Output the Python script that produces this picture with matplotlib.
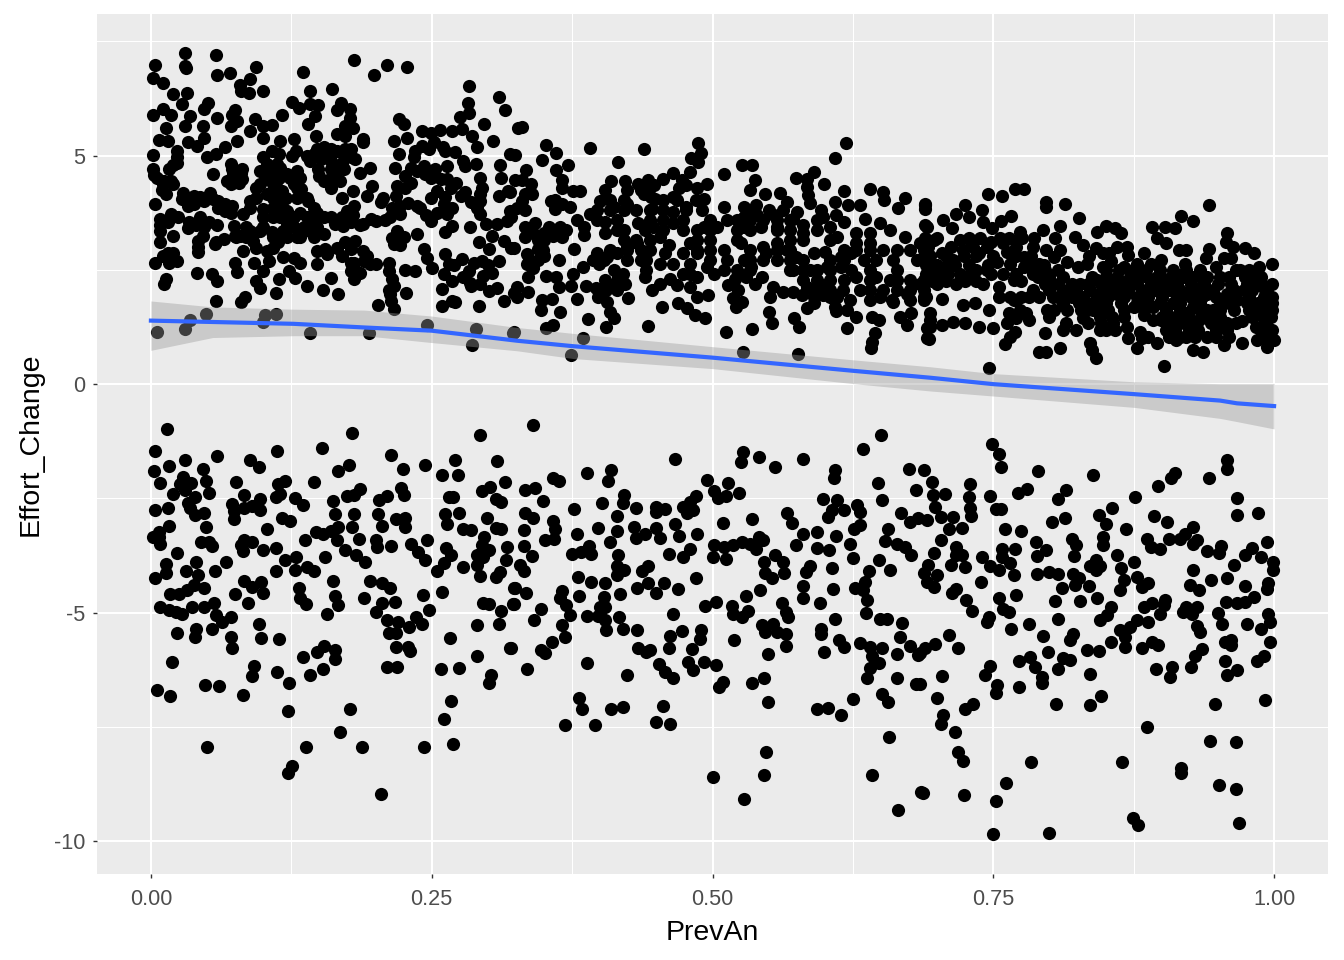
import numpy as np
import matplotlib
matplotlib.use('Agg')
import matplotlib.pyplot as plt

plt.rcParams['font.family'] = ['Liberation Sans', 'DejaVu Sans']

# values, (PrevAn, Effort_Change)
lower_left = [
(.0145,-.99),(.179,-1.08),(.293,-1.12),(.152,-1.39),(.004,-1.47),(.112,-1.47),(.214,-1.56),(.059,-1.58),(.030,-1.67),(.088,-1.67),
(.271,-1.67),(.308,-1.69),(.016,-1.80),(.046,-1.85),(.096,-1.82),(.176,-1.77),(.167,-1.91),(.224,-1.85),(.244,-1.76),(.003,-1.91),
(.259,-1.98),(.273,-1.98),(.008,-2.17),(.029,-2.03),(.026,-2.19),(.036,-2.16),(.049,-2.12),(.076,-2.15),(.119,-2.11),(.113,-2.19),
(.145,-2.15),(.315,-2.15),(.020,-2.41),(.030,-2.32),(.052,-2.39),(.039,-2.48),(.083,-2.43),(.115,-2.41),(.111,-2.48),(.128,-2.49),
(.186,-2.30),(.181,-2.43),(.175,-2.44),(.162,-2.56),(.210,-2.45),(.203,-2.54),(.223,-2.28),(.225,-2.42),(.265,-2.46),(.269,-2.46),
(.295,-2.33),(.302,-2.26),(.307,-2.51),(.312,-2.59),(.004,-2.76),(.015,-2.72),(.033,-2.61),(.035,-2.72),(.039,-2.87),(.047,-2.83),
(.072,-2.63),(.074,-2.78),(.074,-2.95),(.083,-2.70),(.090,-2.67),(.097,-2.52),(.097,-2.76),(.135,-2.65),(.164,-2.85),(.181,-2.85),
(.202,-2.85),(.262,-2.85),(.274,-2.81),(.218,-2.95),(.226,-2.93),(.264,-3.05),(.299,-2.93),(.307,-3.15),(.312,-3.18),(.016,-3.11),
(.049,-3.13),(.103,-3.16),(.117,-2.92),(.124,-3.00),(.167,-3.12),(.179,-3.12),(.206,-3.11),(.226,-3.13),(.160,-3.21),(.153,-3.29),
(.147,-3.24),(.278,-3.18),(.285,-3.20),(.007,-3.23),(.002,-3.34),(.007,-3.34),(.008,-3.49),(.297,-3.34),(.045,-3.45),(.052,-3.45),
(.054,-3.54),(.137,-3.41),(.166,-3.41),(.185,-3.38),(.200,-3.41),(.201,-3.57),(.214,-3.54),(.173,-3.62),(.232,-3.49),(.246,-3.41),
(.238,-3.67),(.083,-3.41),(.090,-3.45),(.080,-3.51),(.082,-3.65),(.100,-3.62),(.111,-3.59),(.317,-3.56),(.263,-3.58),(.267,-3.73),
(.295,-3.52),(.301,-3.63),(.290,-3.73),(.296,-3.78),(.023,-3.70),(.155,-3.78),(.183,-3.74),(.191,-3.89),(.244,-3.85),(.067,-3.90),
(.119,-3.84),(.129,-3.78),(.261,-3.92),(.316,-3.85),(.013,-3.94),(.040,-3.90),(.031,-4.08),(.057,-4.10),(.111,-4.08),(.128,-4.06),
(.139,-4.01),(.145,-4.08),(.255,-4.08),(.278,-4.01),(.290,-3.96),(.013,-4.14),(.004,-4.25),(.042,-4.18),(.293,-4.20),(.311,-4.11),
(.307,-4.22),(.162,-4.30),(.195,-4.30),(.083,-4.30),(.098,-4.33),(.090,-4.43),(.047,-4.46),(.038,-4.40),(.206,-4.35),(.213,-4.47),
(.132,-4.46),(.100,-4.58),(.075,-4.60),(.017,-4.60),(.032,-4.51),(.025,-4.60),(.259,-4.54),(.242,-4.62),(.190,-4.67),(.164,-4.64),
(.167,-4.84),(.133,-4.69),(.138,-4.82),(.086,-4.78),(.056,-4.78),(.047,-4.87),(.037,-4.87),(.008,-4.87),(.016,-4.94),(.022,-4.98),
(.028,-5.02),(.217,-4.76),(.206,-4.80),(.200,-4.99),(.248,-4.94),(.296,-4.80),(.301,-4.82),(.322,-4.82),(.323,-4.47),(.312,-4.96),
(.058,-5.05),(.071,-5.09),(.063,-5.20),(.157,-5.04),(.210,-5.16),(.220,-5.21),(.236,-5.09),(.241,-5.25),(.230,-5.32),(.096,-5.26),
(.290,-5.28),(.310,-5.24),(.054,-5.35),(.040,-5.36),(.023,-5.45),(.039,-5.53),(.071,-5.53),(.072,-5.77),(.098,-5.56),(.114,-5.58),
(.212,-5.45),(.218,-5.44),(.266,-5.56),(.218,-5.76),(.229,-5.75),(.231,-5.85),(.320,-5.78),(.154,-5.73),(.148,-5.87),(.164,-5.82),
(.164,-6.01),(.135,-5.98),(.019,-6.09),(.290,-5.96),(.092,-6.16),(.090,-6.38),(.112,-6.31),(.153,-6.24),(.142,-6.36),(.210,-6.18),
(.219,-6.20),(.258,-6.24),(.274,-6.22),(.303,-6.36),(.301,-6.55),(.048,-6.58),(.061,-6.60),(.123,-6.55),(.005,-6.70),(.017,-6.83),
(.082,-6.81),(.267,-6.94),(.122,-7.16),(.177,-7.12),(.261,-7.33),(.168,-7.62),(.050,-7.95),(.138,-7.95),(.188,-7.93),(.243,-7.95),
(.269,-7.88),(.126,-8.36),(.122,-8.52),(.205,-8.98),
]
lower_mid = [
(.340,-.90),(.650,-1.12),(.634,-1.43),(.467,-1.63),(.527,-1.48),(.525,-1.71),(.541,-1.60),(.556,-1.82),(.581,-1.63),(.609,-1.88),
(.608,-2.05),(.675,-1.85),(.358,-2.06),(.363,-2.11),(.388,-1.95),(.410,-1.87),(.407,-2.12),(.495,-2.09),(.514,-2.17),(.501,-2.33),
(.505,-2.50),(.512,-2.45),(.524,-2.39),(.647,-2.17),(.681,-2.32),(.333,-2.32),(.342,-2.28),(.349,-2.56),(.377,-2.74),(.402,-2.61),
(.421,-2.43),(.420,-2.61),(.432,-2.72),(.450,-2.68),(.450,-2.79),(.458,-2.74),(.485,-2.44),(.480,-2.57),(.474,-2.68),(.483,-2.76),
(.477,-2.83),(.598,-2.52),(.611,-2.54),(.606,-2.76),(.603,-2.90),(.617,-2.76),(.651,-2.54),(.629,-2.65),(.631,-2.79),(.566,-2.83),
(.571,-3.03),(.333,-2.81),(.340,-2.92),(.358,-2.99),(.415,-2.89),(.467,-3.05),(.509,-3.03),(.535,-2.96),(.668,-2.83),(.676,-3.01),
(.683,-2.92),(.332,-3.20),(.360,-3.18),(.351,-3.40),(.359,-3.38),(.379,-3.27),(.398,-3.14),(.415,-3.22),(.430,-3.12),(.432,-3.36),
(.440,-3.27),(.450,-3.14),(.453,-3.36),(.470,-3.33),(.486,-3.29),(.409,-3.46),(.581,-3.28),(.574,-3.52),(.593,-3.24),(.610,-3.33),
(.631,-3.09),(.626,-3.18),(.656,-3.17),(.654,-3.43),(.664,-3.49),(.671,-3.56),(.677,-3.75),(.593,-3.59),(.604,-3.63),(.622,-3.50),
(.625,-3.80),(.332,-3.55),(.339,-3.76),(.375,-3.71),(.383,-3.67),(.390,-3.55),(.392,-3.72),(.416,-3.73),(.461,-3.71),(.480,-3.61),
(.474,-3.79),(.501,-3.52),(.510,-3.57),(.500,-3.79),(.512,-3.83),(.518,-3.52),(.526,-3.45),(.533,-3.49),(.541,-3.34),(.545,-3.41),
(.539,-3.60),(.556,-3.74),(.563,-3.89),(.564,-4.14),(.546,-3.89),(.547,-4.14),(.553,-4.24),(.648,-3.84),(.658,-4.07),(.329,-3.96),
(.332,-4.08),(.587,-3.98),(.583,-4.11),(.581,-4.42),(.581,-4.67),(.606,-4.03),(.639,-4.09),(.636,-4.32),(.627,-4.47),(.634,-4.51),
(.638,-4.73),(.637,-5.00),(.415,-3.99),(.421,-4.06),(.415,-4.18),(.437,-4.08),(.443,-3.99),(.380,-4.23),(.392,-4.33),(.404,-4.35),
(.485,-4.25),(.433,-4.47),(.443,-4.36),(.450,-4.58),(.457,-4.35),(.469,-4.49),(.324,-4.47),(.334,-4.58),(.323,-4.81),(.366,-4.52),
(.364,-4.69),(.370,-4.84),(.373,-5.05),(.381,-4.63),(.403,-4.65),(.400,-4.87),(.404,-4.87),(.418,-4.60),(.542,-4.51),(.530,-4.64),
(.503,-4.76),(.493,-4.86),(.607,-4.49),(.596,-4.78),(.517,-4.85),(.518,-5.02),(.526,-5.10),(.532,-4.97),(.562,-4.80),(.565,-4.98),
(.567,-5.10),(.347,-4.92),(.341,-5.16),(.465,-5.02),(.388,-5.07),(.398,-5.07),(.404,-5.16),(.417,-5.09),(.649,-5.13),(.655,-5.13),
(.669,-5.22),(.609,-5.14),(.597,-5.35),(.597,-5.47),(.366,-5.27),(.369,-5.53),(.405,-5.38),(.420,-5.35),(.433,-5.37),(.544,-5.27),
(.554,-5.24),(.547,-5.42),(.557,-5.42),(.565,-5.46),(.473,-5.40),(.462,-5.51),(.490,-5.37),(.489,-5.57),(.519,-5.61),(.667,-5.54),
(.357,-5.65),(.347,-5.82),(.351,-5.89),(.321,-5.78),(.434,-5.78),(.441,-5.86),(.444,-5.81),(.461,-5.78),(.482,-5.80),(.565,-5.72),
(.613,-5.59),(.617,-5.76),(.631,-5.67),(.640,-5.76),(.651,-5.78),(.676,-5.73),(.683,-5.93),(.599,-5.87),(.549,-5.91),(.664,-5.91),
(.642,-5.96),(.648,-6.11),(.640,-6.22),(.638,-6.43),(.388,-6.10),(.335,-6.24),(.452,-6.12),(.458,-6.29),(.465,-6.44),(.478,-6.07),
(.483,-6.26),(.492,-6.09),(.503,-6.15),(.424,-6.37),(.546,-6.42),(.535,-6.55),(.509,-6.51),(.506,-6.62),(.664,-6.42),(.681,-6.57),
(.651,-6.77),(.656,-6.95),(.625,-6.90),(.549,-6.95),(.381,-6.86),(.384,-7.10),(.410,-7.12),(.420,-7.07),(.456,-7.05),(.593,-7.10),
(.603,-7.09),(.614,-7.25),(.369,-7.47),(.395,-7.45),(.450,-7.39),(.462,-7.43),(.657,-7.73),(.548,-8.06),(.500,-8.59),(.546,-8.56),
(.642,-8.56),(.686,-8.93),(.528,-9.07),(.665,-9.33),
]
lower_right = [
(.749,-1.31),(.755,-1.53),(.757,-1.81),(.790,-1.89),(.839,-1.98),(.958,-1.65),(.958,-1.85),(.942,-2.06),(.912,-1.95),(.908,-2.06),
(.897,-2.22),(.688,-1.87),(.695,-2.14),(.729,-2.19),(.728,-2.46),(.707,-2.41),(.747,-2.44),(.780,-2.30),(.772,-2.39),(.815,-2.32),
(.808,-2.52),(.876,-2.46),(.696,-2.43),(.698,-2.68),(.703,-2.90),(.714,-2.90),(.691,-2.98),(.729,-2.72),(.730,-2.88),(.752,-2.74),
(.757,-2.74),(.856,-2.72),(.967,-2.50),(.967,-2.87),(.986,-2.83),(.814,-2.92),(.802,-3.01),(.844,-2.87),(.850,-3.06),(.893,-2.89),
(.905,-3.01),(.760,-3.18),(.775,-3.22),(.711,-3.18),(.722,-3.14),(.868,-3.18),(.928,-3.12),(.921,-3.27),(.916,-3.38),(.703,-3.42),
(.788,-3.46),(.820,-3.38),(.824,-3.52),(.822,-3.76),(.848,-3.34),(.848,-3.52),(.887,-3.38),(.890,-3.56),(.898,-3.60),(.906,-3.38),
(.931,-3.41),(.928,-3.49),(.953,-3.54),(.951,-3.69),(.940,-3.66),(.994,-3.46),(.980,-3.58),(.974,-3.74),(.988,-3.79),(.999,-3.89),
(.999,-4.07),(.717,-3.56),(.722,-3.74),(.717,-3.74),(.697,-3.70),(.769,-3.61),(.758,-3.60),(.758,-3.78),(.797,-3.63),(.789,-3.76),
(.740,-3.78),(.860,-3.73),(.875,-3.89),(.841,-3.85),(.836,-3.99),(.845,-3.99),(.841,-4.07),(.964,-3.96),(.692,-3.96),(.688,-4.14),
(.700,-4.18),(.691,-4.32),(.697,-4.43),(.712,-3.96),(.725,-4.01),(.747,-3.99),(.755,-4.07),(.765,-3.92),(.768,-4.18),(.789,-4.16),
(.800,-4.12),(.808,-4.16),(.821,-4.16),(.826,-4.25),(.823,-4.40),(.835,-4.41),(.811,-4.47),(.864,-4.03),(.866,-4.29),(.863,-4.51),
(.878,-4.22),(.882,-4.43),(.888,-4.36),(.928,-4.06),(.925,-4.40),(.933,-4.51),(.944,-4.29),(.958,-4.24),(.974,-4.42),(.995,-4.36),
(.994,-4.49),(.739,-4.34),(.717,-4.48),(.713,-4.56),(.770,-4.62),(.726,-4.72),(.731,-4.96),(.755,-4.67),(.759,-4.91),(.764,-4.98),
(.805,-4.75),(.827,-4.75),(.842,-4.67),(.855,-4.87),(.851,-5.05),(.845,-5.16),(.903,-4.73),(.902,-4.84),(.884,-4.87),(.891,-4.80),
(.898,-5.04),(.922,-4.87),(.931,-4.87),(.919,-4.98),(.927,-5.02),(.957,-4.76),(.967,-4.80),(.974,-4.76),(.982,-4.65),(.950,-5.00),
(.954,-5.26),(.995,-5.02),(.996,-5.21),(.988,-5.35),(.976,-5.24),(.746,-5.09),(.744,-5.20),(.766,-5.35),(.782,-5.26),(.808,-5.15),
(.794,-5.51),(.821,-5.46),(.818,-5.59),(.878,-5.16),(.872,-5.31),(.863,-5.38),(.867,-5.53),(.867,-5.75),(.888,-5.21),(.931,-5.30),
(.934,-5.43),(.855,-5.65),(.833,-5.82),(.844,-5.83),(.882,-5.78),(.891,-5.64),(.897,-5.71),(.711,-5.50),(.719,-5.78),(.698,-5.69),
(.689,-5.78),(.685,-5.89),(.799,-5.87),(.962,-5.60),(.956,-5.64),(.962,-5.71),(.996,-5.65),(.936,-5.80),(.930,-5.94),(.926,-6.20),
(.991,-5.96),(.985,-6.05),(.956,-6.05),(.773,-6.05),(.783,-5.98),(.787,-6.18),(.793,-6.40),(.793,-6.55),(.812,-6.00),(.818,-6.04),
(.808,-6.23),(.747,-6.16),(.743,-6.37),(.704,-6.39),(.836,-6.35),(.895,-6.24),(.909,-6.18),(.907,-6.40),(.967,-6.26),(.958,-6.37),
(.753,-6.59),(.752,-6.75),(.773,-6.62),(.685,-6.57),(.700,-6.86),(.732,-7.01),(.725,-7.10),(.806,-7.01),(.836,-7.02),(.846,-6.83),
(.947,-7.01),(.992,-6.92),(.705,-7.24),(.703,-7.44),(.887,-7.51),(.716,-7.62),(.943,-7.80),(.966,-7.84),(.719,-8.05),(.723,-8.24),
(.784,-8.26),(.865,-8.26),(.917,-8.41),(.917,-8.52),(.761,-8.72),(.951,-8.78),(.966,-8.85),(.687,-8.94),(.724,-9.00),(.752,-9.13),
(.874,-9.50),(.879,-9.65),(.969,-9.61),(.750,-9.85),(.800,-9.83),
]
upper_left = [
(.004,6.99),(.030,7.24),(.030,6.97),(.031,6.91),(.058,7.21),(.059,6.77),(.070,6.80),(.094,6.93),(.088,6.68),(.079,6.54),(.080,6.42),
(.087,6.38),(.100,6.42),(.002,6.69),(.011,6.58),(.020,6.36),(.032,6.38),(.028,6.14),(.135,6.82),(.142,6.42),(.161,6.45),(.181,7.10),
(.199,6.77),(.210,6.99),(.228,6.95),(.283,6.53),(.310,6.29),(.315,5.99),(.282,6.16),(.283,5.94),(.275,5.85),(.297,5.70),(.305,5.31),
(.286,5.44),(.290,5.18),(.268,5.53),(.277,5.58),(.257,5.56),(.241,5.55),(.249,5.50),(.221,5.80),(.225,5.70),(.228,5.39),(.216,5.31),
(.221,5.04),(.320,5.03),(.311,4.80),(.327,5.61),(.002,5.88),(.011,6.03),(.018,5.90),(.013,5.61),(.007,5.35),(.015,5.33),(.035,5.87),
(.030,5.65),(.047,6.02),(.051,6.16),(.059,5.83),(.075,6.00),(.072,5.90),(.077,5.76),(.071,5.65),(.046,5.65),(.047,5.39),(.041,5.21),
(.033,5.29),(.077,5.32),(.066,5.18),(.058,5.03),(.050,4.96),(.002,5.02),(.023,5.10),(.023,4.85),(.016,4.70),(.093,5.80),(.117,5.90),
(.108,5.67),(.100,5.65),(.088,5.53),(.100,5.39),(.115,5.31),(.127,5.37),(.126,6.18),(.132,6.05),(.142,6.12),(.149,6.11),(.146,5.87),
(.140,5.69),(.147,5.42),(.169,6.16),(.177,6.03),(.166,5.99),(.177,5.83),(.173,5.65),(.180,5.61),(.166,5.48),(.173,5.43),(.189,5.36),
(.189,5.29),(.129,5.10),(.126,4.99),(.108,5.10),(.100,4.96),(.114,5.03),(.145,5.03),(.154,5.18),(.142,4.88),(.149,4.70),(.166,5.10),
(.173,5.14),(.178,4.96),(.182,4.92),(.160,4.88),(.170,4.85),(.166,4.67),(.160,4.52),(.195,4.73),(.186,4.61),(.217,4.74),(.071,4.81),
(.081,4.70),(.073,4.59),(.081,4.48),(.071,4.37),(.055,4.59),(.002,4.70),(.005,4.52),(.011,4.37),(.020,4.37),(.013,4.16),(.004,3.95),
(.029,4.19),(.038,4.12),(.033,3.90),(.053,4.19),(.047,4.01),(.060,4.01),(.072,3.90),(.066,3.79),(.071,3.75),(.097,4.67),(.106,4.67),
(.115,4.74),(.121,4.59),(.130,4.67),(.097,4.37),(.109,4.37),(.103,4.16),(.117,4.23),(.127,4.37),(.134,4.27),(.088,4.01),(.100,3.83),
(.082,3.72),(.112,3.94),(.121,3.79),(.140,4.01),(.115,3.65),(.133,3.75),(.121,3.50),(.148,3.75),(.142,3.50),(.154,3.65),(.154,3.28),
(.180,4.23),(.170,4.08),(.175,3.79),(.181,3.90),(.189,3.50),(.197,4.34),(.192,4.12),(.207,4.08),(.200,3.57),(.213,3.65),(.222,3.72),
(.219,4.34),(.226,4.30),(.218,4.12),(.229,3.97),(.237,3.90),(.164,3.50),(.171,3.46),(.008,3.61),(.008,3.35),(.008,3.10),(.018,3.72),
(.024,3.65),(.020,3.24),(.034,3.54),(.044,3.65),(.047,3.43),(.042,3.13),(.042,2.90),(.057,3.06),(.065,3.17),(.059,3.49),(.074,3.46),
(.079,3.24),(.088,3.35),(.097,3.35),(.108,3.32),(.091,3.13),(.118,3.35),(.130,3.21),(.142,3.35),(.113,3.10),(.103,2.92),(.082,2.92),
(.020,2.88),(.011,2.81),(.004,2.66),(.023,2.70),(.016,2.66),(.148,2.92),(.157,2.84),(.166,2.99),(.173,3.10),(.182,3.13),(.189,2.92),
(.237,3.28),(.243,2.95),(.246,2.77),(.250,2.55),(.219,3.35),(.225,3.21),(.216,3.06),(.249,4.52),(.234,4.96),(.241,5.21),(.252,5.29),
(.260,5.18),(.237,4.67),(.244,4.59),(.253,4.70),(.264,4.78),(.271,5.07),(.278,4.88),(.289,4.81),(.264,4.48),(.267,4.30),(.249,4.08),
(.261,3.94),(.276,4.12),(.293,4.52),(.295,4.30),(.293,4.01),(.293,3.72),(.312,4.52),(.318,4.23),(.310,4.12),(.320,3.79),(.249,3.57),
(.264,3.72),(.268,3.46),(.262,3.32),(.284,3.43),(.298,3.50),(.308,3.50),(.317,3.57),(.292,3.10),(.304,3.24),(.314,3.13),(.301,2.95),
(.323,2.99),(.262,2.84),(.265,2.62),(.277,2.73),(.283,2.48),(.261,2.41),(.295,2.70),(.310,2.70),(.304,2.44),(.296,2.37),(.259,2.08),
(.268,1.82),(.259,1.71),(.271,1.79),(.284,2.22),(.293,2.19),(.301,2.04),(.308,2.11),(.292,1.71),(.314,1.82),(.323,2.00),(.075,2.66),
(.077,2.46),(.092,2.66),(.105,2.70),(.041,2.44),(.054,2.42),(.059,2.25),(.013,2.30),(.012,2.19),(.118,2.79),(.127,2.77),(.133,2.66),
(.100,2.48),(.094,2.26),(.097,2.11),(.111,2.00),(.114,2.30),(.123,2.48),(.128,2.33),(.139,2.15),(.153,2.05),(.167,1.98),(.160,2.33),
(.148,2.62),(.181,2.66),(.178,2.48),(.186,2.44),(.181,2.30),(.200,2.62),(.212,2.66),(.212,2.48),(.226,2.49),(.235,2.48),(.216,2.15),
(.213,1.97),(.214,1.82),(.227,2.00),(.202,1.74),(.058,1.81),(.084,1.90),(.080,1.79),(.216,1.64),(.005,1.15),(.030,1.20),(.035,1.41),
(.049,1.53),(.102,1.52),(.111,1.53),(.100,1.35),(.142,1.13),(.194,1.11),(.246,1.29),(.289,1.20),(.286,.85),(.322,1.13),
]
upper_left_dense = [
(.103,4.81),(.112,4.81),(.103,4.52),(.114,4.52),(.124,4.52),(.133,4.52),(.094,4.30),(.112,4.30),(.130,4.30),(.094,4.08),(.109,4.08),
(.120,4.08),(.130,4.08),(.139,4.08),(.088,3.86),(.109,3.86),(.118,3.86),(.145,3.86),(.100,3.65),(.109,3.65),(.127,3.65),(.139,3.65),
(.149,3.65),(.160,3.65),(.085,3.43),(.100,3.43),(.127,3.43),(.136,3.43),(.148,3.43),(.076,3.21),(.085,3.21),(.109,3.21),(.121,3.21),
(.133,3.21),(.145,3.21),(.094,2.99),(.109,2.99),(.148,5.14),(.160,5.14),(.178,5.14),(.139,4.99),(.151,4.92),(.154,5.05),(.172,5.01),
(.160,4.70),(.172,4.70),(.157,4.45),(.168,4.45),(.150,4.55),(.160,4.30),(.154,4.45),(.226,4.55),(.232,4.72),(.243,4.78),(.232,4.40),
(.258,4.50),(.272,4.40),(.280,4.20),(.255,4.22),(.262,4.10),(.285,3.98),(.293,4.15),(.290,3.85),(.255,3.75),(.268,3.85),(.240,3.85),
(.222,3.90),(.245,3.70),(.235,5.10),(.248,5.15),(.262,5.10),(.280,4.78),(.270,2.60),(.288,2.65),(.300,2.60),(.278,2.35),(.268,2.25),
(.285,2.15),(.008,3.48),(.015,3.55),(.033,3.42),(.040,3.48),(.052,3.55),(.046,3.25),(.042,3.00),(.015,2.88),(.028,4.05),(.035,4.05),
(.044,4.10),(.038,3.95),(.055,4.05),(.066,3.95),(.060,3.85),(.012,4.45),(.003,4.58),(.018,4.45),(.010,4.25),(.023,4.98),(.020,4.80),
(.072,4.70),(.077,4.55),(.080,4.62),(.068,4.45),(.078,4.40),(.075,3.25),(.090,3.25),(.058,3.10),(.155,2.95),(.170,2.80),(.178,2.95),
(.192,2.80),(.178,2.65),(.195,2.62),(.190,2.70),(.215,3.20),(.222,3.05),(.186,3.48),(.196,3.62),(.208,3.60),(.170,3.65),(.180,3.70),
(.178,3.55),(.205,3.98),(.215,3.85),(.215,2.30),(.212,2.05),
]
upper_mid = [
(.330,5.62),(.324,5.01),(.352,5.24),(.361,5.06),(.348,4.90),(.391,5.16),(.439,5.14),(.416,4.87),(.487,5.27),(.490,5.05),(.481,4.94),
(.487,4.87),(.526,4.79),(.535,4.79),(.619,5.27),(.609,4.94),(.510,4.59),(.574,4.52),(.590,4.65),(.584,4.50),(.599,4.39),(.584,4.32),
(.585,4.14),(.587,3.97),(.538,4.46),(.533,4.25),(.547,4.17),(.560,4.19),(.566,3.99),(.563,3.81),(.550,3.81),(.334,4.68),(.361,4.68),
(.371,4.79),(.366,4.46),(.376,4.23),(.382,4.23),(.410,4.45),(.422,4.45),(.434,4.39),(.443,4.46),(.456,4.50),(.465,4.61),(.473,4.46),
(.480,4.65),(.486,4.30),(.495,4.39),(.640,4.26),(.652,4.21),(.653,4.03),(.671,4.08),(.665,3.86),(.689,3.92),(.617,4.23),(.609,3.99),
(.621,3.92),(.631,3.92),(.597,3.81),(.636,3.62),(.617,3.55),(.575,3.77),(.581,3.48),(.593,3.59),(.605,3.44),(.404,4.24),(.400,4.00),
(.412,3.88),(.424,4.25),(.424,3.95),(.439,4.17),(.449,4.06),(.446,3.84),(.465,4.10),(.476,3.88),(.465,3.77),(.360,4.03),(.360,3.84),
(.373,3.88),(.391,3.73),(.379,3.59),(.492,4.06),(.491,3.81),(.510,3.88),(.513,3.59),(.528,3.88),(.539,3.92),(.333,4.17),(.339,4.17),
(.333,3.80),(.324,4.46),(.320,4.21),(.321,3.66),(.333,3.44),(.342,3.52),(.354,3.44),(.364,3.44),(.333,3.22),(.386,3.44),(.386,3.26),
(.404,3.55),(.404,3.30),(.434,3.52),(.447,3.44),(.453,3.22),(.465,3.52),(.474,3.37),(.492,3.44),(.504,3.44),(.528,3.44),(.543,3.44),
(.557,3.44),(.581,3.30),(.611,3.22),(.350,3.15),(.366,3.22),(.321,2.97),(.377,2.95),(.424,3.01),(.433,3.08),(.415,2.86),(.406,2.79),
(.461,3.04),(.458,2.86),(.480,3.08),(.474,2.86),(.486,2.86),(.480,2.64),(.510,2.93),(.525,3.08),(.513,2.71),(.528,2.71),(.545,3.01),
(.557,3.08),(.566,2.93),(.548,2.86),(.557,2.71),(.628,3.08),(.640,3.08),(.658,3.37),(.649,3.52),(.671,3.22),(.685,3.08),(.691,3.44),
(.590,2.86),(.600,2.90),(.614,2.79),(.587,2.49),(.602,2.57),(.614,2.57),(.623,2.86),(.646,2.71),(.661,2.71),(.658,2.28),(.646,2.35),
(.682,2.71),(.688,2.28),(.673,1.98),(.628,2.35),(.631,2.06),(.616,2.06),(.611,1.91),(.609,1.69),(.620,1.62),(.628,1.47),(.661,1.80),
(.649,1.91),(.642,1.47),(.648,1.40),(.667,1.47),(.673,1.29),(.677,1.56),(.620,1.22),(.645,1.11),(.642,.93),(.641,.80),(.691,1.22),
(.691,1.00),(.584,1.66),(.590,1.77),(.599,2.13),(.584,2.13),(.593,2.28),(.572,2.49),(.574,2.79),(.572,2.02),(.563,2.02),(.554,2.13),
(.551,1.91),(.573,1.44),(.577,1.25),(.550,1.57),(.553,1.33),(.535,1.20),(.512,1.14),(.514,2.17),(.523,2.06),(.518,1.88),(.526,1.80),
(.521,1.69),(.538,2.20),(.496,1.95),(.486,1.91),(.480,2.13),(.468,2.17),(.495,2.57),(.501,2.42),(.486,2.35),(.510,2.49),(.522,2.49),
(.534,2.57),(.446,2.06),(.453,2.20),(.441,2.49),(.453,2.64),(.465,2.64),(.474,2.42),(.455,1.69),(.469,1.77),(.477,1.66),(.484,1.51),
(.493,1.44),(.443,1.28),(.425,1.88),(.422,2.20),(.415,2.06),(.398,1.91),(.404,2.28),(.412,2.49),(.406,1.80),(.409,1.58),(.412,1.44),
(.405,1.24),(.389,1.42),(.387,2.15),(.374,2.15),(.379,1.87),(.376,2.42),(.385,2.57),(.397,2.86),(.399,2.64),(.364,1.57),(.358,1.29),
(.352,1.22),(.347,1.62),(.348,1.84),(.357,1.87),(.363,2.13),(.361,2.35),(.352,2.36),(.363,2.71),(.336,2.02),(.336,2.35),(.326,2.13),
(.326,1.91),(.337,2.71),(.345,2.71),(.349,2.93),(.335,2.64),(.323,1.15),(.385,1.02),(.374,.63),(.527,.70),(.576,.67),
]
upper_mid_dense = [
(.498,3.59),(.522,3.59),(.533,3.59),(.545,3.59),(.557,3.59),(.569,3.59),(.486,3.37),(.498,3.37),(.522,3.37),(.533,3.37),(.557,3.37),
(.569,3.37),(.593,3.37),(.486,3.15),(.498,3.15),(.522,3.15),(.569,3.15),(.581,3.15),(.605,3.15),(.486,2.93),(.498,2.93),(.533,2.93),
(.557,2.93),(.569,2.93),(.617,2.93),(.628,2.93),(.498,2.71),(.533,2.71),(.545,2.71),(.569,2.71),(.581,2.71),(.605,2.71),(.617,2.71),
(.635,2.71),(.533,2.49),(.569,2.49),(.581,2.49),(.593,2.49),(.605,2.49),(.623,2.49),(.640,2.49),(.664,2.49),(.581,2.28),(.605,2.28),
(.617,2.28),(.640,2.28),(.664,2.28),(.676,2.28),(.593,2.06),(.605,2.06),(.640,2.06),(.652,2.06),(.664,2.06),(.676,2.06),(.688,2.06),
(.622,1.84),(.640,1.84),(.660,1.84),(.676,1.84),(.688,1.84),(.640,2.93),(.652,2.93),(.664,2.93),(.676,2.93),(.688,2.93),(.628,3.30),
(.640,3.30),(.409,4.03),(.421,4.03),(.456,4.03),(.468,4.03),(.485,4.03),(.397,3.81),(.409,3.81),(.421,3.81),(.432,3.81),(.444,3.81),
(.456,3.81),(.476,3.81),(.397,3.59),(.415,3.59),(.444,3.59),(.456,3.59),(.474,3.59),(.415,3.37),(.421,3.37),(.440,3.37),(.456,3.37),
(.421,3.15),(.432,3.15),(.444,3.15),(.409,2.93),(.424,2.93),(.436,2.93),(.444,2.93),(.394,2.71),(.403,2.71),(.424,2.71),(.436,2.71),
(.441,2.71),(.330,4.46),(.338,4.37),(.330,4.00),(.326,3.85),(.356,4.00),(.366,3.95),(.366,4.30),(.340,3.30),(.345,3.15),(.350,3.30),
(.358,3.25),(.370,3.38),(.345,2.95),(.335,2.85),(.350,2.80),(.340,2.55),(.436,4.25),(.440,4.30),(.448,4.35),(.470,4.30),(.476,4.35),
(.445,4.10),(.540,3.70),(.534,3.72),(.528,3.65),(.555,3.70),(.572,3.62),(.598,3.65),(.610,3.70),(.416,2.35),(.412,2.20),(.396,2.10),
(.405,2.05),(.420,2.40),(.440,2.35),(.462,2.30),(.480,2.40),(.544,2.35),(.530,2.35),(.520,2.30),(.590,2.05),(.598,1.95),(.590,1.90),
(.580,1.95),(.605,1.90),(.610,1.60),
]
upper_right = [
(.689,3.95),(.689,3.84),(.745,4.15),(.758,4.11),(.769,4.26),(.777,4.26),(.797,3.99),(.797,3.88),(.814,3.95),(.826,3.63),(.942,3.93),
(.917,3.69),(.928,3.56),(.891,3.43),(.903,3.43),(.912,3.41),(.896,3.20),(.904,3.09),(.958,3.30),(.957,3.11),(.963,3.00),(.974,2.97),
(.982,2.88),(.915,2.93),(.922,2.93),(.942,2.95),(.939,2.75),(.955,2.75),(.962,2.75),(.998,2.64),(.987,2.57),(.948,2.57),(.921,2.64),
(.899,2.71),(.884,2.86),(.890,2.64),(.842,3.32),(.850,3.46),(.858,3.41),(.864,3.30),(.869,3.00),(.860,3.00),(.853,2.86),(.809,3.47),
(.805,3.19),(.823,3.22),(.830,3.04),(.841,2.97),(.848,2.86),(.794,3.37),(.786,3.19),(.774,3.33),(.766,3.68),(.757,3.57),(.749,3.41),
(.740,3.81),(.741,3.55),(.725,3.92),(.717,3.73),(.728,3.66),(.705,3.59),(.689,3.48),(.713,3.41),(.748,3.11),(.759,3.08),(.771,3.15),
(.762,2.90),(.720,3.15),(.729,3.15),(.737,2.86),(.723,2.93),(.697,3.15),(.689,3.19),(.704,2.86),(.689,2.86),(.714,2.71),(.777,2.79),
(.753,2.68),(.797,2.93),(.809,2.93),(.791,2.64),(.785,2.42),(.777,2.57),(.765,2.64),(.759,2.42),(.695,2.49),(.707,2.57),(.720,2.42),
(.735,2.49),(.744,2.49),(.685,2.20),(.700,2.20),(.717,2.20),(.741,2.20),(.768,2.28),(.755,2.13),(.825,2.57),(.816,2.68),(.804,2.79),
(.833,2.64),(.848,2.57),(.866,2.57),(.878,2.64),(.887,2.35),(.904,2.28),(.919,2.35),(.937,2.28),(.952,2.35),(.970,2.49),(.982,2.35),
(.994,2.13),(.800,2.28),(.785,2.06),(.803,1.91),(.815,1.98),(.827,2.20),(.842,2.28),(.857,2.28),(.872,2.20),(.892,2.06),(.907,2.06),
(.922,1.98),(.940,1.98),(.958,1.98),(.973,2.06),(.991,1.91),(.845,1.84),(.860,1.98),(.878,1.77),(.892,1.69),(.910,1.77),(.928,1.69),
(.946,1.62),(.967,1.84),(.994,1.69),(.997,1.47),(.994,1.25),(.984,1.25),(.995,.93),(1.000,.96),(.985,.96),(.971,1.39),(.971,.89),
(.994,.82),(.955,.85),(.937,.70),(.928,.74),(.949,1.33),(.940,1.04),(.958,1.33),(.933,1.40),(.922,1.55),(.913,1.40),(.913,.96),
(.922,1.04),(.906,1.18),(.899,1.40),(.896,.90),(.892,1.40),(.884,1.51),(.875,1.69),(.869,1.25),(.870,1.00),(.881,1.15),(.878,.78),
(.882,1.00),(.902,.40),(.845,1.18),(.857,1.33),(.833,1.62),(.839,1.62),(.830,1.44),(.824,1.18),(.815,1.33),(.812,1.18),(.796,1.13),
(.809,.80),(.791,.70),(.797,.71),(.836,.91),(.838,.74),(.841,.58),(.798,1.62),(.791,1.91),(.782,1.91),(.779,1.55),(.768,1.84),
(.774,1.62),(.762,1.33),(.769,1.15),(.765,1.04),(.760,.88),(.750,1.22),(.737,1.25),(.725,1.33),(.714,1.36),(.704,1.29),(.694,1.25),
(.746,1.62),(.723,1.73),(.734,1.77),(.704,1.87),(.694,1.55),(.694,1.40),(.693,.99),(.746,.36),(.855,2.70),(.835,2.80),(.870,2.82),
(.764,1.55),(.770,1.45),(.782,1.40),
]
# the solid black part on the right, read row by row
dense_y = [2.49, 2.35, 2.20, 2.06, 1.91, 1.77, 1.62, 1.47, 1.33, 1.18, 1.04,
           3.20, 3.00, 2.80, 2.60, 2.40, 2.25, 1.90]
dense_x = [
[.796,.808,.850,.862,.874,.886,.898,.910,.922,.934,.966,.978],
[.790,.800,.812,.838,.850,.860,.872,.880,.896,.908,.916,.928,.940,.960,.974,.988],
[.796,.808,.820,.834,.846,.854,.866,.878,.890,.902,.914,.926,.938,.950,.962,.976,.986,.998],
[.800,.812,.824,.836,.848,.858,.870,.882,.894,.904,.916,.928,.934,.946,.964,.980,.992],
[.808,.820,.830,.842,.852,.866,.878,.888,.900,.914,.926,.936,.948,.964,.978,.998],
[.812,.826,.838,.850,.864,.884,.898,.916,.934,.952,.960,.976,.986,.998],
[.804,.816,.828,.846,.852,.866,.884,.904,.916,.934,.940,.952,.964,.978,.986,.998],
[.800,.845,.856,.866,.900,.908,.924,.940,.952,.980,.990],
[.834,.846,.904,.920,.930,.944,.966,.992],
[.850,.858,.904,.912,.924,.932,.948,.958,.988,.998],
[.888,.906,.916,.930,.948,.960,.994],
[.700,.728,.738,.756,.764,.776],
[.692,.712,.732,.744,.770,.785],
[.694,.708,.724,.735,.750,.770,.784],
[.690,.700,.716,.728,.745,.785,.795],
[.690,.700,.710,.730,.748,.770],
[.695,.708,.725,.735,.775],
[.688,.690,.755,.765,.775],
]

smooth_x = [0, .055, .127, .19, .25, .326, .376, .5, .626, .694, .75, .876, .952, .967, 1.0]
smooth_y = [1.39, 1.36, 1.32, 1.24, 1.17, .95, .83, .58, .29, .14, 0, -.22, -.36, -.42, -.48]
band_top = [1.82, 1.69, 1.64, 1.62, 1.49, 1.24, 1.11, .82, .53, .38, .23, .05, .01, .01, .01]
band_bot = [.74, 1.02, 1.06, 1.06, .91, .73, .56, .34, .01, -.15, -.26, -.51, -.75, -.82, -.98]

xticks = [0, .25, .5, .75, 1]
xticklabels = ['0.00', '0.25', '0.50', '0.75', '1.00']
yticks = [-10, -5, 0, 5]
yticklabels = ['-10', '-5', '0', '5']

dense_right = [(x, y) for y, xs in zip(dense_y, dense_x) for x in xs]
pts = np.array(lower_left + lower_mid + lower_right + upper_left + upper_left_dense
               + upper_mid + upper_mid_dense + upper_right + dense_right)

fig = plt.figure(figsize=(13.44, 9.6), dpi=100)
ax = fig.add_axes([97/1344, 1 - 874/960, (1328-97)/1344, (874-14)/960])
ax.set_facecolor('#EBEBEB')
for s in ax.spines.values():
    s.set_visible(False)

ax.scatter(pts[:, 0], pts[:, 1], s=90, c='black', linewidths=0, zorder=3)
ax.fill_between(smooth_x, band_bot, band_top, color='#999999', alpha=.4, linewidth=0, zorder=4)
ax.plot(smooth_x, smooth_y, color='#3366FF', lw=3, zorder=5)

ax.set_xlim(-.048, 1.048)
ax.set_ylim(-10.72, 8.1)
ax.set_xticks(xticks)
ax.set_xticklabels(xticklabels)
ax.set_yticks(yticks)
ax.set_yticklabels(yticklabels)
ax.set_xticks([.125, .375, .625, .875], minor=True)
ax.set_yticks([-7.5, -2.5, 2.5, 7.5], minor=True)
ax.grid(True, which='major', color='white', lw=1.45, zorder=1)
ax.grid(True, which='minor', color='white', lw=.75, zorder=1)
ax.set_axisbelow(True)
ax.tick_params(which='major', length=3.2, width=1, color='#333333', labelcolor='#4D4D4D', labelsize=15.6)
ax.tick_params(axis='x', which='major', pad=7.5)
ax.tick_params(axis='y', which='major', pad=5.5)
ax.tick_params(which='minor', length=0)
ax.set_xlabel('PrevAn', fontsize=20.5, color='black', labelpad=7)
ax.set_ylabel('Effort_Change', fontsize=20.5, color='black', labelpad=7)

fig.savefig('out.png', dpi=100)
